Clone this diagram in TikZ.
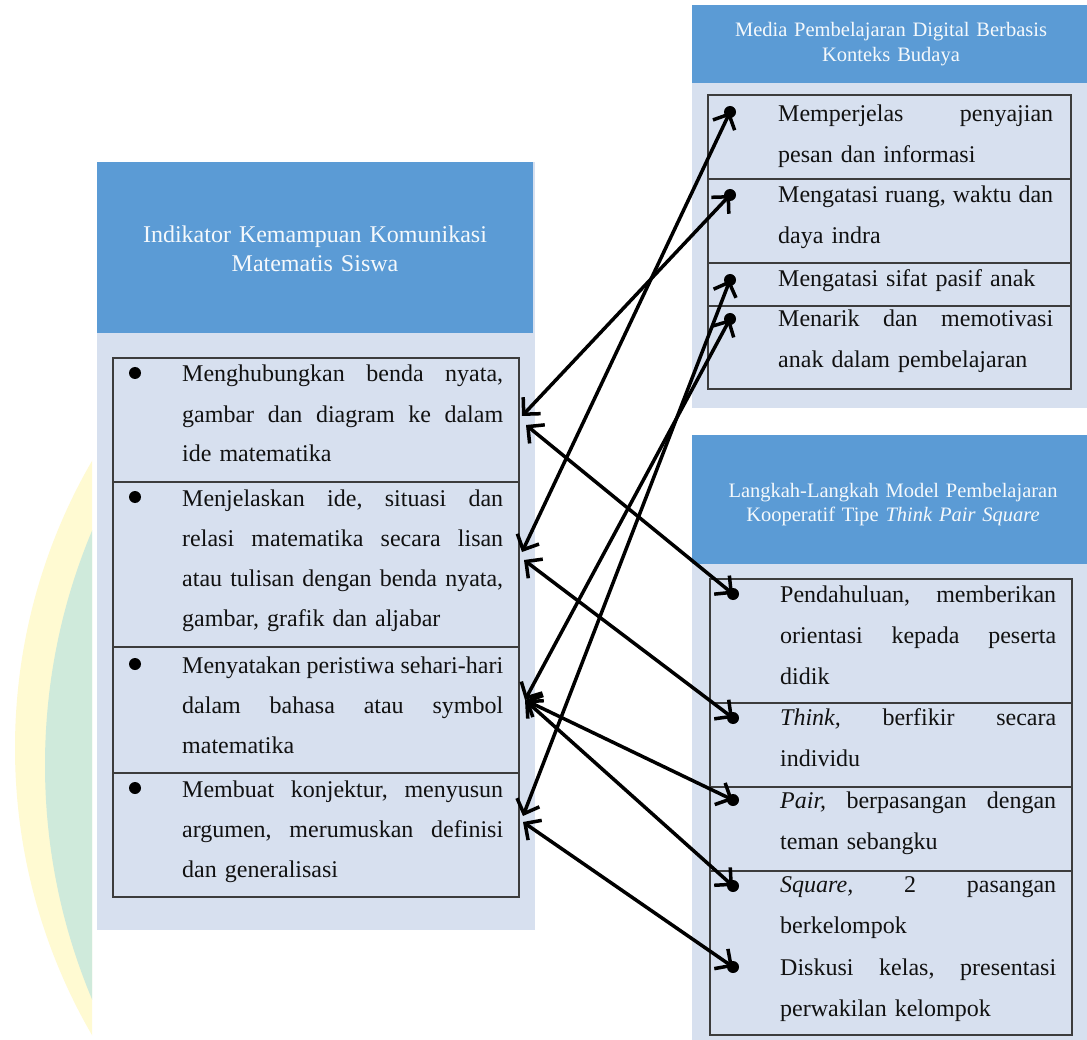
\documentclass[tikz,border=0pt]{standalone}
\usepackage{fontspec}
\setmainfont{Liberation Serif}
\usetikzlibrary{arrows.meta}
\definecolor{hdr}{HTML}{5B9BD5}
\definecolor{pnl}{HTML}{D7E0EF}
\definecolor{bordc}{HTML}{3C3C3C}
\definecolor{wmy}{HTML}{FFFAD2}
\definecolor{wmt}{HTML}{CFEADB}
\definecolor{txt}{HTML}{111111}
\newcommand\jl[2]{\leavevmode\hbox to #1{#2}}
\newcommand\hf{\hskip 0pt plus 1fill\relax}
\begin{document}
\begin{tikzpicture}[x=1pt,y=-1pt,
  boxline/.style={draw=bordc, line width=1.4pt},
  hdrtext/.style={text=white!94!hdr, inner sep=0pt, anchor=base, align=center},
  bodyL/.style={text=txt, inner sep=0pt, anchor=base west, text width=321pt, font=\fontsize{24}{40}\selectfont},
  bodyT/.style={text=txt, inner sep=0pt, anchor=base west, text width=275pt, font=\fontsize{24}{40.5}\selectfont},
  bodyB/.style={text=txt, inner sep=0pt, anchor=base west, text width=276pt, font=\fontsize{24}{41}\selectfont},
  dot/.style={circle, fill=black, inner sep=0pt, minimum size=12pt},
  conn/.style={draw=black, line width=3.5pt, {Straight Barb[length=12pt,width=24pt]}-{Straight Barb[length=12pt,width=24pt]}}
]
\useasboundingbox (0,0) rectangle (1087,1040);
\fill[white] (0,0) rectangle (1087,1040);
% watermark
\begin{scope}
  \clip (0,0) rectangle (92,1040);
  \fill[wmy] (588,748) circle (573pt);
  \fill[wmt] (650,765) circle (605pt);
\end{scope}
% left panel
\fill[pnl] (97,162) rectangle (535,930);
\fill[hdr] (97,162) rectangle (533,333);
\draw[boxline] (113,358) rectangle (519,897);
\draw[boxline] (113,482) -- (519,482);
\draw[boxline] (113,647) -- (519,647);
\draw[boxline] (113,773) -- (519,773);
% right top panel
\fill[pnl] (692,5) rectangle (1095,408);
\fill[hdr] (692,5) rectangle (1095,83);
\draw[boxline] (708,95) rectangle (1071,389);
\draw[boxline] (708,179) -- (1071,179);
\draw[boxline] (708,263) -- (1071,263);
\draw[boxline] (708,306) -- (1071,306);
% right bottom panel
\fill[pnl] (692,435) rectangle (1095,1045);
\fill[hdr] (692,435) rectangle (1095,564);
\draw[boxline] (710,579) rectangle (1072,1035);
\draw[boxline] (710,703) -- (1072,703);
\draw[boxline] (710,787) -- (1072,787);
\draw[boxline] (710,871) -- (1072,871);
% headers
\node[hdrtext, text width=420pt, font=\fontsize{24}{29}\selectfont] (lh) at (315,243)
  {Indikator Kemampuan Komunikasi\\Matematis Siswa};
\node[hdrtext, text width=390pt, font=\fontsize{20.5}{25}\selectfont] (th) at (891,37)
  {Media Pembelajaran Digital Berbasis\\Konteks Budaya};
\node[hdrtext, text width=390pt, font=\fontsize{20.5}{24.5}\selectfont] (bh) at (893,497)
  {Langkah-Langkah Model Pembelajaran\\Kooperatif Tipe \textit{Think Pair Square}};
% left texts
\node[bodyL] (r1) at (182,382) {\jl{321pt}{Menghubungkan\hf benda\hf nyata,}\\\jl{321pt}{gambar\hf dan\hf diagram\hf ke\hf dalam}\\ide matematika};
\node[bodyL] (r2) at (182,506) {\jl{321pt}{Menjelaskan\hf ide,\hf situasi\hf dan}\\\jl{321pt}{relasi\hf matematika\hf secara\hf lisan}\\\jl{321pt}{atau\hf tulisan\hf dengan\hf benda\hf nyata,}\\gambar, grafik dan aljabar};
\node[bodyL] (r3) at (182,673) {\jl{321pt}{Menyatakan\hf peristiwa\hf sehari-hari}\\\jl{321pt}{dalam\hf bahasa\hf atau\hf symbol}\\matematika};
\node[bodyL] (r4) at (182,797) {\jl{321pt}{Membuat\hf konjektur,\hf menyusun}\\\jl{321pt}{argumen,\hf merumuskan\hf definisi}\\dan generalisasi};
\node[dot] (lb1) at (135,373) {};
\node[dot] (lb2) at (135,497) {};
\node[dot] (lb3) at (135,664) {};
\node[dot] (lb4) at (135,788) {};
% right top texts
\node[bodyT] (tt1) at (778,122) {\jl{275pt}{Memperjelas\hf penyajian}\\pesan dan informasi};
\node[bodyT] (tt2) at (778,203) {\jl{275pt}{Mengatasi\hf ruang,\hf waktu\hf dan}\\daya indra};
\node[bodyT] (tt3) at (778,287) {Mengatasi sifat pasif anak};
\node[bodyT] (tt4) at (778,327) {\jl{275pt}{Menarik\hf dan\hf memotivasi}\\anak dalam pembelajaran};
% right bottom texts
\node[bodyB] (bb1) at (780,602) {\jl{276pt}{Pendahuluan,\hf memberikan}\\\jl{276pt}{orientasi\hf kepada\hf peserta}\\didik};
\node[bodyB] (bb2) at (780,725) {\jl{276pt}{\textit{Think,}\hf berfikir\hf secara}\\individu};
\node[bodyB] (bb3) at (780,808) {\jl{276pt}{\textit{Pair,}\hf berpasangan\hf dengan}\\teman sebangku};
\node[bodyB] (bb4) at (780,892) {\jl{276pt}{\textit{Square,}\hf 2\hf pasangan}\\berkelompok};
\node[bodyB] (bb5) at (780,975) {\jl{276pt}{Diskusi\hf kelas,\hf presentasi}\\perwakilan kelompok};
% connector endpoints
\coordinate (l1a) at (522,416);
\coordinate (l1b) at (526,425);
\coordinate (l2a) at (522,552);
\coordinate (l2b) at (524,560);
\coordinate (l3) at (525,700);
\coordinate (l4a) at (523,816);
\coordinate (l4b) at (523,822);
\node[dot] (td1) at (730,112) {};
\node[dot] (td2) at (730,195) {};
\node[dot] (td3) at (730,280) {};
\node[dot] (td4) at (730,319) {};
\node[dot] (bd1) at (733,594) {};
\node[dot] (bd2) at (733,718) {};
\node[dot] (bd3) at (733,800) {};
\node[dot] (bd4) at (733,886) {};
\node[dot] (bd5) at (733,967) {};
% connectors
\draw[conn] (l1a) -- (td2.center);
\draw[conn] (l2a) -- (td1.center);
\draw[conn] (l3) -- (td4.center);
\draw[conn] (l4a) -- (td3.center);
\draw[conn] (l1b) -- (bd1.center);
\draw[conn] (l2b) -- (bd2.center);
\draw[conn] (l3) -- (bd3.center);
\draw[conn] (l3) -- (bd4.center);
\draw[conn] (l4b) -- (bd5.center);
\end{tikzpicture}
\end{document}
